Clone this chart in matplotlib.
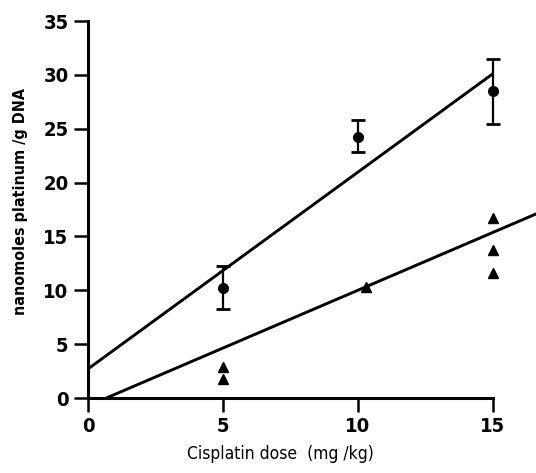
import matplotlib.pyplot as plt

# mean DNA platination with SD bars (circles)
dose_mean = [5, 10, 15]
pt_mean = [10.2, 24.2, 28.5]
err_lo = [1.9, 1.4, 3.1]
err_hi = [2.1, 1.6, 3.0]

# individual values (triangles)
dose_ind = [5, 5, 10.3, 15, 15, 15]
pt_ind = [2.9, 1.8, 10.3, 16.7, 13.7, 11.6]

# regression lines (end points in dose units)
line1_x = [0, 15]
line1_y = [2.7, 30.1]
line2_x = [0.68, 16.8]
line2_y = [0, 17.3]

xticks = [0, 5, 10, 15]
yticks = [0, 5, 10, 15, 20, 25, 30, 35]

plt.rcParams['font.family'] = ['DejaVu Sans']
plt.rcParams['font.stretch'] = 'condensed'

fig = plt.figure(figsize=(5.36, 4.73), dpi=100)
ax = fig.add_axes([88 / 536, 75 / 473, 448 / 536, 377 / 473])

ax.plot(line1_x, line1_y, color='black', lw=2.1, solid_capstyle='butt')
ax.plot(line2_x, line2_y, color='black', lw=2.1, solid_capstyle='butt', clip_on=False)

ax.errorbar(dose_mean, pt_mean, yerr=[err_lo, err_hi], fmt='o', color='black',
            ms=7, elinewidth=1.6, capsize=5, capthick=2.0)
ax.plot(dose_ind, pt_ind, '^', color='black', ms=7, ls='none')

ax.set_xlim(0, 16.6)
ax.set_ylim(0, 35)
ax.spines['top'].set_visible(False)
ax.spines['right'].set_visible(False)
ax.spines['bottom'].set_bounds(0, 15)
ax.spines['left'].set_linewidth(2.2)
ax.spines['bottom'].set_linewidth(2.2)

ax.set_xticks(xticks)
ax.set_yticks(yticks)
ax.tick_params(axis='both', direction='out', length=10, width=1.8, color='black')
ax.tick_params(axis='x', pad=4)
ax.tick_params(axis='y', pad=4)
for lab in ax.get_xticklabels() + ax.get_yticklabels():
    lab.set_fontsize(14.5)
    lab.set_fontweight('bold')
    lab.set_fontstretch('condensed')

ax.set_xlabel('Cisplatin dose  (mg /kg)', fontsize=12.5,
              fontstretch='condensed', fontweight='medium')
ax.xaxis.set_label_coords(0.43, -0.125)
ax.set_ylabel('nanomoles platinum /g DNA', fontsize=11.5, fontweight='bold',
              fontstretch='condensed')
ax.yaxis.set_label_coords(-0.135, 0.52)

fig.savefig('out.png', dpi=100)
